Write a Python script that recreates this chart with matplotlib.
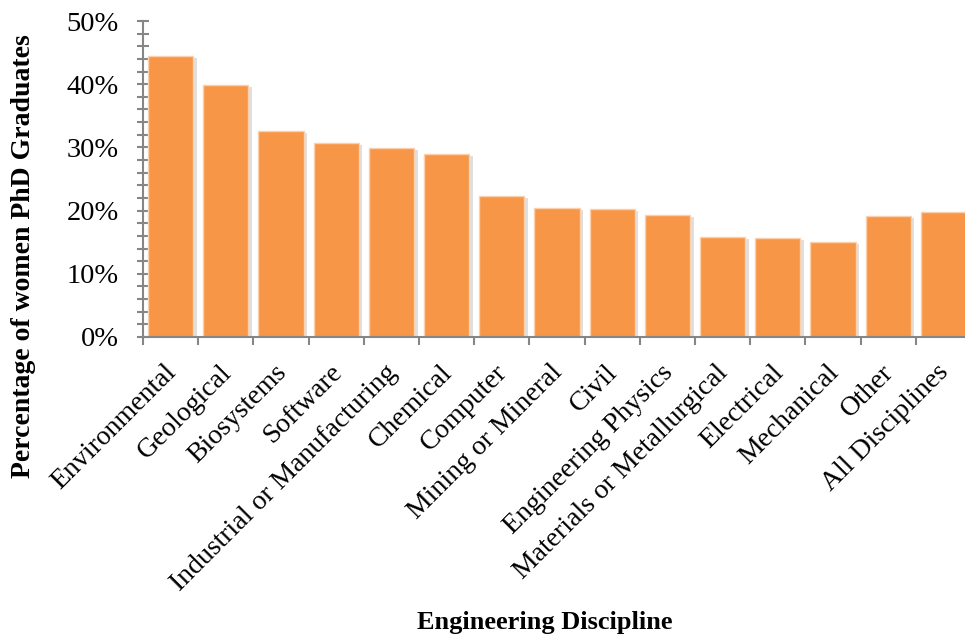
import numpy as np
import matplotlib
matplotlib.use("Agg")
import matplotlib.pyplot as plt
import matplotlib.patheffects as pe
import matplotlib.transforms as mtransforms
from matplotlib.ticker import MultipleLocator, PercentFormatter

# share of PhD graduates who are women, by engineering discipline
disciplines = ["Environmental", "Geological", "Biosystems", "Software",
               "Industrial or Manufacturing", "Chemical", "Computer",
               "Mining or Mineral", "Civil", "Engineering Physics",
               "Materials or Metallurgical", "Electrical", "Mechanical",
               "Other", "All Disciplines"]
women_pct = [44.5, 39.9, 32.6, 30.7, 29.9, 29.0, 22.3, 20.4, 20.3, 19.3,
             15.8, 15.7, 15.1, 19.1, 19.7]

plt.rcParams['font.family'] = ['Liberation Serif', 'DejaVu Serif']
axis_grey = '#868686'

fig = plt.figure(figsize=(9.65, 6.38), dpi=100)
ax = fig.add_axes([143/965, 1-337/638, 828/965, 316/638])

x = np.arange(len(disciplines))
bars = ax.bar(x, women_pct, width=0.82, color='#F79646',
              edgecolor='#FBD0AE', linewidth=1.0, zorder=2)
for b in bars:
    b.set_path_effects([pe.SimplePatchShadow(offset=(2.5, -1.5), shadow_rgbFace='#808080', alpha=0.25),
                        pe.Normal()])

ax.set_xlim(-0.5, len(disciplines) - 0.5)
ax.set_ylim(0, 50)

ax.yaxis.set_major_locator(MultipleLocator(10))
ax.yaxis.set_minor_locator(MultipleLocator(2))
ax.yaxis.set_major_formatter(PercentFormatter(decimals=0))

# ticks on the x axis sit between the categories, names drawn under each bar
ax.set_xticks(np.arange(len(disciplines) + 1) - 0.5)
ax.set_xticklabels([])
shift = mtransforms.ScaledTranslation(-0.07, -0.23, fig.dpi_scale_trans)
for xi, name in zip(x, disciplines):
    ax.text(xi, 0, name, transform=ax.get_xaxis_transform() + shift,
            rotation=45, rotation_mode='anchor', ha='right', va='top',
            fontsize=20, clip_on=False)

ax.tick_params(axis='x', which='major', length=6, width=1.5, color=axis_grey, direction='out')
ax.tick_params(axis='y', which='major', length=9, width=1.5, color=axis_grey,
               direction='inout', labelsize=20.5, pad=13)
ax.tick_params(axis='y', which='minor', length=8, width=1.5, color=axis_grey, direction='inout')

for side in ['top', 'right']:
    ax.spines[side].set_visible(False)
for side in ['left', 'bottom']:
    ax.spines[side].set_color(axis_grey)
    ax.spines[side].set_linewidth(1.5)

fig.text(24/965, 1-256/638, "Percentage of women PhD Graduates", rotation=90,
         ha='center', va='center', fontsize=20, fontweight='bold')
fig.text(545/965, 1-623/638, "Engineering Discipline",
         ha='center', va='center', fontsize=19, fontweight='bold')

fig.savefig("out.png", dpi=100)
